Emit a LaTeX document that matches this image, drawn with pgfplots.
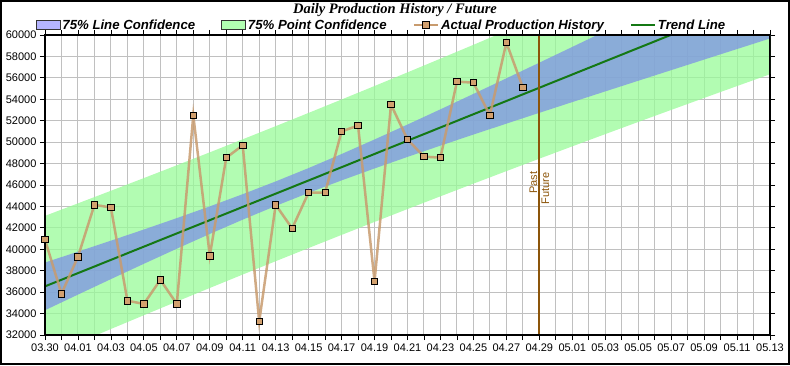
\documentclass[border=0pt]{standalone}
\usepackage{pgfplots}
\pgfplotsset{compat=1.18}
\usepackage{pgfplotstable}
\usepgfplotslibrary{fillbetween}
\usepackage{fontspec}
\setmainfont{Liberation Sans}
\newfontfamily\titlefont{Liberation Serif}
\definecolor{lineband}{RGB}{125,145,229}
\definecolor{legendblue}{RGB}{180,180,255}
\definecolor{pointband}{RGB}{152,251,152}
\definecolor{legendgreen}{RGB}{178,255,178}
\definecolor{histline}{RGB}{200,155,110}
\definecolor{histmark}{RGB}{210,160,110}
\definecolor{trendgreen}{RGB}{20,120,20}
\definecolor{pastbrown}{RGB}{140,85,10}
\definecolor{gridgray}{RGB}{192,192,192}

\pgfplotstableread{
x pu pl lu ll
0 43121 29957 38765 34313
2 44286 31264 39779 35771
4 45461 32561 40805 37217
6 46646 33846 41845 38647
8 47842 35122 42909 40055
10 49048 36388 44004 41432
12 50265 37643 45142 42766
14 51493 38887 46333 44047
16 52731 40119 47583 45267
18 53980 41342 48892 46430
20 55240 42554 50249 47545
22 56511 43755 51643 48623
24 57793 44945 53063 49675
26 59083 46125 54502 50706
28 60385 47295 55954 51726
30 61696 48456 57416 52736
32 63017 49607 58886 53738
34 64347 50749 60361 54735
36 65684 51882 61839 55727
38 67031 53007 63321 56717
40 68385 54125 64805 57705
42 69747 55235 66292 58690
44 71117 56337 67780 59674
}\bands

\pgfplotstableread{
x y
0 40900
1 35850
2 39300
3 44150
4 43900
5 35200
6 34900
7 37150
8 34900
9 52500
10 39400
11 48550
12 49700
13 33250
14 44150
15 41950
16 45300
17 45300
18 51000
19 51550
20 37000
21 53500
22 50250
23 48650
24 48550
25 55650
26 55550
27 52500
28 59300
29 55100
}\hist

\begin{document}
\begin{tikzpicture}
\begin{axis}[
  at={(0pt,0pt)}, anchor=south west,
  scale only axis, width=725pt, height=300pt,
  xmin=0, xmax=44, ymin=32000, ymax=60000,
  xtick={0,2,...,44},
  xticklabels={03.30,04.01,04.03,04.05,04.07,04.09,04.11,04.13,04.15,04.17,04.19,04.21,04.23,04.25,04.27,04.29,05.01,05.03,05.05,05.07,05.09,05.11,05.13},
  minor xtick={1,3,...,43},
  ytick={32000,34000,...,60000},
  scaled y ticks=false,
  xmajorgrids, xminorgrids, ymajorgrids,
  major grid style={gridgray, line width=1pt},
  minor grid style={gridgray, line width=1pt},
  tick align=outside, major tick length=5pt, minor tick length=5pt,
  tick style={black, line width=0.8pt},
  axis line style={black, line width=1.5pt},
  ticklabel style={font=\fontsize{11}{13}\selectfont},
  /pgf/number format/assume math mode=true,
  /pgf/number format/set thousands separator={},
  legend columns=4,
  legend style={at={(axis description cs:0.464,1.033)}, anchor=center,
    draw=none, fill=none,
    font=\fontsize{13.2}{15}\selectfont\bfseries\itshape,
    /tikz/every even column/.append style={column sep=24pt},
    cells={anchor=west}},
]
\addplot[name path=pu, draw=none, forget plot] table[x=x,y=pu]{\bands};
\addplot[name path=pl, draw=none, forget plot] table[x=x,y=pl]{\bands};
\addplot[fill=pointband, fill opacity=0.75, draw=none, forget plot] fill between[of=pu and pl];
\addplot[name path=lu, draw=none, forget plot] table[x=x,y=lu]{\bands};
\addplot[name path=ll, draw=none, forget plot] table[x=x,y=ll]{\bands};
\addplot[fill=lineband, fill opacity=0.75, draw=none, forget plot] fill between[of=lu and ll];
\addplot[trendgreen, line width=2pt, forget plot] coordinates {(0,36539) (44,63727)};
\addplot[pastbrown, line width=2pt, forget plot] coordinates {(30,32000) (30,60000)};
\addplot[histline, line width=2.5pt, opacity=0.85, mark=square*, mark size=3.2pt,
  mark options={fill=histmark, draw=black, line width=0.8pt, solid, opacity=1}, forget plot]
  table[x=x,y=y]{\hist};
\draw[black, line width=1.5pt] (rel axis cs:0,0) rectangle (rel axis cs:1,1);
\node[rotate=90, anchor=south, font=\fontsize{11}{13}\selectfont, text=pastbrown, inner sep=2pt] at (axis cs:30,46200) {Past};
\node[rotate=90, anchor=north, font=\fontsize{11}{13}\selectfont, text=pastbrown, inner sep=2pt] at (axis cs:30,45700) {Future};

\addlegendimage{legend image code/.code={\draw[fill=legendblue, draw=black!80, line width=0.8pt] (0pt,-4.5pt) rectangle (24pt,4.5pt);}}
\addlegendentry{75\% Line Confidence}
\addlegendimage{legend image code/.code={\draw[fill=legendgreen, draw=black!80, line width=0.8pt] (0pt,-4.5pt) rectangle (24pt,4.5pt);}}
\addlegendentry{75\% Point Confidence}
\addlegendimage{legend image code/.code={\draw[histline, line width=2.5pt] (0pt,0pt) -- (24pt,0pt);
  \draw[fill=histmark, draw=black, line width=0.8pt] (8.8pt,-3.2pt) rectangle (15.2pt,3.2pt);}}
\addlegendentry{Actual Production History}
\addlegendimage{legend image code/.code={\draw[trendgreen, line width=2pt] (0pt,0pt) -- (24pt,0pt);}}
\addlegendentry{Trend Line}
\end{axis}
\node[font=\titlefont\fontsize{14.5}{16}\selectfont\bfseries\itshape] at (350pt,325pt) {Daily Production History / Future};
\pgfresetboundingbox
\path[use as bounding box] (-45pt,-30pt) rectangle (745pt,335pt);
\draw[black, line width=2pt] (-44pt,-29pt) rectangle (744pt,334pt);
\end{tikzpicture}
\end{document}
